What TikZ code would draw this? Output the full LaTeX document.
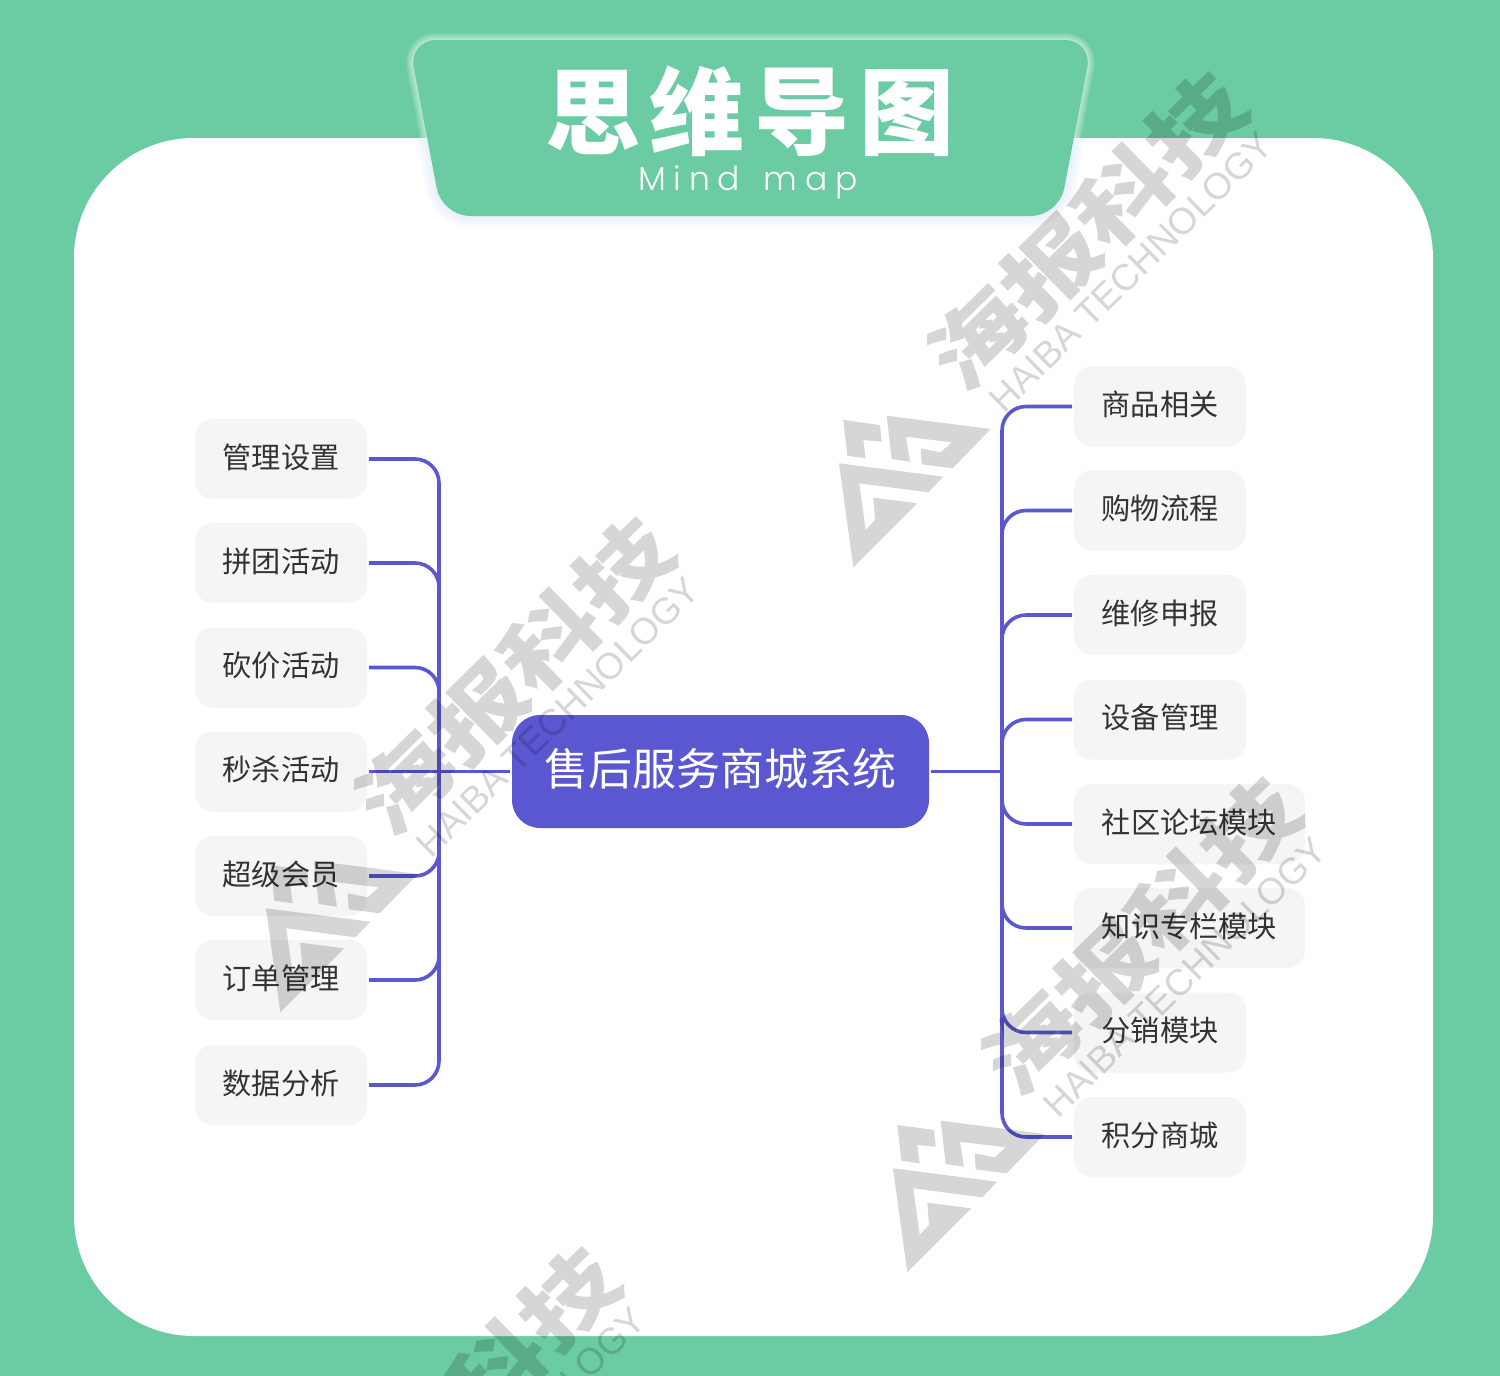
\documentclass[tikz,border=0pt]{standalone}
\usepackage{fontspec}
\usepackage{graphicx}
\setmainfont{Noto Sans CJK SC}
\newfontfamily\cjkblack[LetterSpace=10.5]{Noto Sans CJK SC Black}
\newfontfamily\wmcjk{Noto Sans CJK SC Black}
\newfontfamily\mindfont[LetterSpace=23]{Poppins Light}
\newfontfamily\wmlat{Liberation Sans}
\definecolor{mint}{HTML}{6BCCA3}
\definecolor{indigo}{HTML}{5A57D1}
\definecolor{boxgrey}{HTML}{F5F5F5}
\definecolor{inkgrey}{HTML}{333333}
\definecolor{haze}{HTML}{E4EDFA}
\newcommand{\itm}[1]{#1\hspace{3.5pt}}
\tikzset{
  x=1pt,y=-1pt,
  item/.style={rectangle,rounded corners=18pt,fill=boxgrey,text=inkgrey,minimum height=80pt,inner sep=0pt,outer sep=2pt,text height=25.5pt,text depth=7.5pt,font=\fontsize{29.2}{35}\selectfont},
  itemshort/.style={item,minimum width=172pt},
  itemlong/.style={item,minimum width=231pt},
  hubbox/.style={rectangle,rounded corners=28pt,fill=indigo,text=white,minimum width=417pt,minimum height=113pt,inner sep=0pt,outer sep=2pt,text height=38pt,text depth=10.6pt,font=\fontsize{44}{52}\selectfont},
  link/.style={draw=indigo,line width=3.6pt,rounded corners=24pt},
  wmfill/.style={fill=black,fill opacity=.16,draw=none},
  wmtext/.style={text=black,text opacity=.16,rotate=44.5,inner sep=0pt},
}
\newcommand{\trappath}{(408.5,40) -- (1092.5,40) -- (1059,216) -- (442,216) -- cycle}
\newcommand{\wmark}[2]{%
  \begin{scope}[shift={(#1,#2)}]
    \node[wmtext,font=\wmcjk\fontsize{82}{90}\selectfont] (wmcn#1) at (1087,231) {\scalebox{1.24}[1]{海报科技}};
    \node[wmtext,font=\wmlat\fontsize{37}{40}\selectfont] (wmen#1) at (1131,272) {HAIBA TECHNOLOGY};
    \fill[wmfill] (843.3,420) -- (880,425) -- (881.7,441.7) -- (863.3,440) -- (865.7,458.3) -- (847.3,455.7) -- cycle;
    \fill[wmfill] (886.7,415.7) -- (990.7,429) -- (952.7,468.3) -- (921.7,464.3) -- (920.7,448.3) -- (940.7,452.3) -- (951.7,442.3) -- (906,436.7) -- (910,461.7) -- (891.7,459) -- cycle;
    \fill[wmfill] (839,463.3) -- (943.3,476.7) -- (928.3,492.3) -- (859.3,483.3) -- (865.7,530) -- (875,520) -- (873.3,497.7) -- (917.3,503.3) -- (853.3,567.3) -- cycle;
  \end{scope}}
\begin{document}
\begin{tikzpicture}
  \useasboundingbox (0,0) rectangle (1500,1376);
  \fill[mint] (0,0) rectangle (1500,1376);
  \fill[white,rounded corners=120pt] (74,138) rectangle (1433,1336);

  % title plate: haze below, glow above, then the plate
  \begin{scope}
    \clip (0,138) rectangle (1500,260);
    \foreach \w in {22,17,12,7,3}
      \draw[haze,line width=\w pt,opacity=.2,line join=round,rounded corners=28pt] \trappath;
  \end{scope}
  \begin{scope}
    \clip (0,0) rectangle (1500,138);
    \foreach \w in {14,11,8,5,3}
      \draw[white,line width=\w pt,opacity=.13,line join=round,rounded corners=28pt] \trappath;
  \end{scope}
  \fill[mint,rounded corners=28pt] \trappath;
  \node[text=white,inner sep=0pt,font=\cjkblack\fontsize{95}{100}\selectfont] (title) at (750,111) {思维导图};
  \node[text=white,inner sep=0pt,anchor=base,font=\mindfont\fontsize{33}{40}\selectfont] (subtitle) at (748,190) {Mind\hspace{24pt}map};

  % central node and items
  \node[hubbox] (center) at (720.5,771.5) {售后服务商城系统};

  \node[itemshort] (l1) at (281,459) {\itm{管理设置}};
  \node[itemshort] (l2) at (281,563) {\itm{拼团活动}};
  \node[itemshort] (l3) at (281,667.5) {\itm{砍价活动}};
  \node[itemshort] (l4) at (281,771.5) {\itm{秒杀活动}};
  \node[itemshort] (l5) at (281,876) {\itm{超级会员}};
  \node[itemshort] (l6) at (281,980) {\itm{订单管理}};
  \node[itemshort] (l7) at (281,1085) {\itm{数据分析}};

  \node[itemshort] (r1) at (1160,406.5) {\itm{商品相关}};
  \node[itemshort] (r2) at (1160,510.5) {\itm{购物流程}};
  \node[itemshort] (r3) at (1160,615) {\itm{维修申报}};
  \node[itemshort] (r4) at (1160,719.5) {\itm{设备管理}};
  \node[itemlong]  (r5) at (1189.5,824) {社区论坛模块};
  \node[itemlong]  (r6) at (1189.5,928) {知识专栏模块};
  \node[itemshort] (r7) at (1160,1032.5) {\itm{分销模块}};
  \node[itemshort] (r8) at (1160,1137) {\itm{积分商城}};

  % connectors
  \coordinate (hubl) at (439,771.5);
  \coordinate (hubr) at (1002,771.5);
  \draw[link] (l1.east) -| (hubl);
  \draw[link] (l2.east) -| (hubl);
  \draw[link] (l3.east) -| (hubl);
  \draw[link] (l5.east) -| (hubl);
  \draw[link] (l6.east) -| (hubl);
  \draw[link] (l7.east) -| (hubl);
  \draw[link] (l4.east) -- (center.west);
  \draw[link] (center.east) -- (hubr);
  \foreach \n in {r1,r2,r3,r4,r5,r6,r7,r8}
    \draw[link] (hubr) |- (\n.west);

  % watermarks
  \wmark{0}{0}
  \wmark{-573}{445}
  \wmark{54}{705}
  \wmark{-627}{1175}
\end{tikzpicture}
\end{document}
